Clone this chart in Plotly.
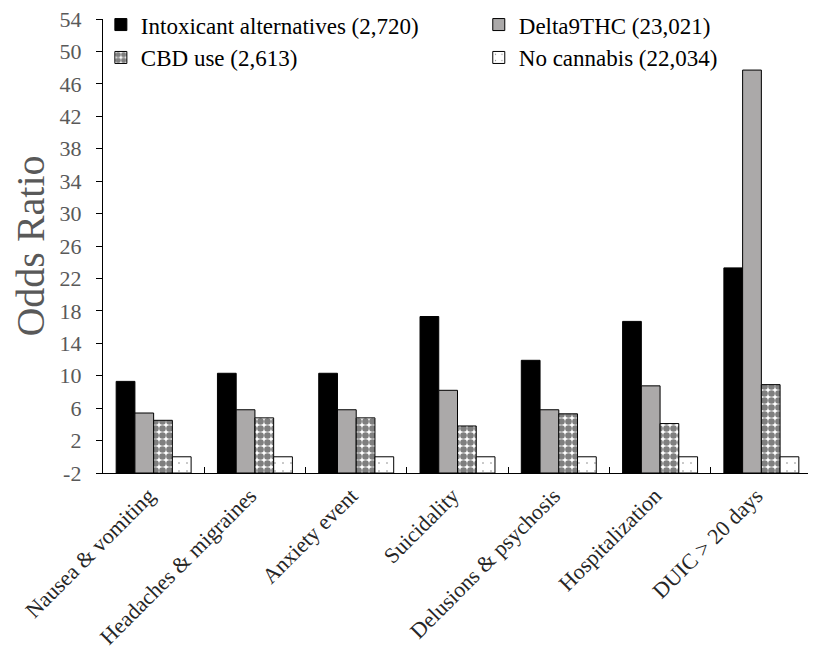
import plotly.graph_objects as go

categories = ["Nausea & vomiting", "Headaches & migraines", "Anxiety event",
              "Suicidality", "Delusions & psychosis", "Hospitalization", "DUIC > 20 days"]
intoxicant = [9.3, 10.3, 10.3, 17.3, 11.9, 16.7, 23.3]
delta9thc = [5.4, 5.8, 5.8, 8.2, 5.8, 8.75, 47.7]
cbd_use = [4.5, 4.8, 4.8, 3.8, 5.3, 4.1, 8.9]
no_cannabis = [0, 0, 0, 0, 0, 0, 0]
series_names = ["Intoxicant alternatives (2,720)", "Delta9THC (23,021)",
                "CBD use (2,613)", "No cannabis (22,034)"]
axis_min = -2
axis_max = 54
tick_step = 4
tick_values = list(range(axis_min, axis_max + 1, tick_step))
tick_labels = [str(v) for v in tick_values]

FONT = "Liberation Serif"

def heights(vals):
    return [v - axis_min for v in vals]

styles = [
    dict(color="black", pattern=None, legend="legend"),
    dict(color="#ABA9A9", pattern=None, legend="legend2"),
    dict(color="white", pattern=dict(shape=".", fgcolor="black", bgcolor="white", size=7, solidity=0.7), legend="legend"),
    dict(color="white", pattern=dict(shape=".", fgcolor="black", bgcolor="white", size=8, solidity=0.03), legend="legend2"),
]

fig = go.Figure()
for name, vals, st in zip(series_names, [intoxicant, delta9thc, cbd_use, no_cannabis], styles):
    marker = dict(color=st["color"], line=dict(color="black", width=1))
    if st["pattern"]:
        marker["pattern"] = st["pattern"]
    fig.add_trace(go.Bar(
        x=categories, y=heights(vals), base=axis_min, name=name,
        marker=marker, legend=st["legend"], legendgroup=name,
    ))

legend_common = dict(
    orientation="v", yanchor="top", y=1.035, xanchor="left",
    font=dict(family=FONT, size=23, color="black"),
    bgcolor="rgba(0,0,0,0)", tracegroupgap=1, traceorder="normal",
)

fig.update_layout(
    width=808, height=640,
    margin=dict(l=95, r=4, t=11, b=175, autoexpand=False),
    paper_bgcolor="white", plot_bgcolor="white",
    barmode="group", bargap=0.26, bargroupgap=0,
    font=dict(family=FONT, color="#595959"),
    showlegend=True,
    legend=dict(x=-0.003, **legend_common),
    legend2=dict(x=0.53, **legend_common),
    xaxis=dict(
        showline=True, linecolor="black", linewidth=1.3,
        ticks="inside", tickson="boundaries", ticklen=6, tickcolor="black", tickwidth=1.3,
        tickangle=-45, ticklabelshift=-5, ticklabeloverflow="allow",
        tickfont=dict(family=FONT, size=22, color="#262626"),
        showgrid=False,
    ),
    yaxis=dict(
        range=[axis_min, axis_max], tickmode="array", tickvals=tick_values, ticktext=tick_labels,
        showline=True, linecolor="black", linewidth=1.3,
        ticks="outside", ticklen=6, tickcolor="black", tickwidth=1.3,
        ticklabelstandoff=10, ticklabeloverflow="allow",
        tickfont=dict(family=FONT, size=22, color="#595959"),
        showgrid=False, zeroline=False,
        title=dict(text="Odds Ratio", font=dict(family=FONT, size=40, color="#595959"), standoff=4),
    ),
)

fig.write_html("out.html")
